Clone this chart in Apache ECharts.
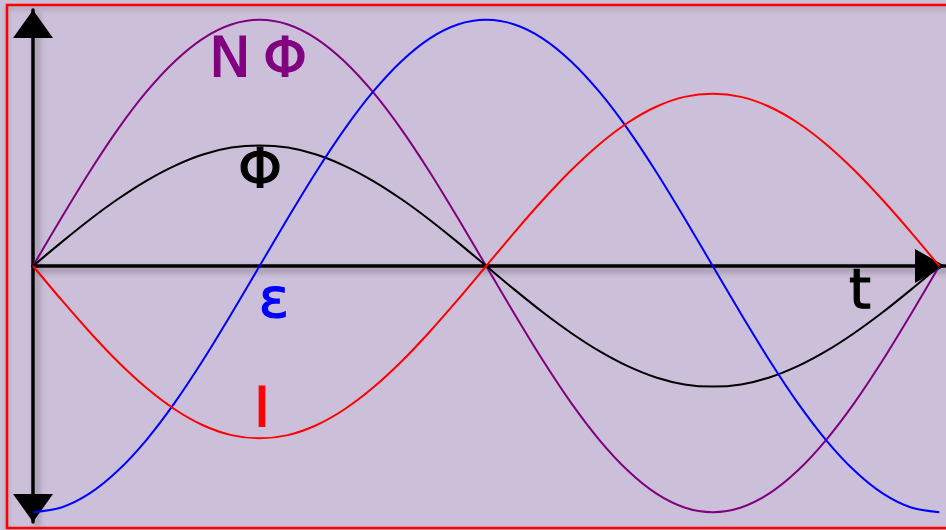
<!DOCTYPE html>
<html>
<head>
<meta charset="utf-8">
<script src="https://cdn.jsdelivr.net/npm/echarts@6/dist/echarts.min.js"></script>
<style>
    html, body { margin: 0; padding: 0; background: #ffffff; }
    #chart { width: 946px; height: 530px; }
</style>
</head>
<body>
<div id="chart"></div>
<script>
// time steps: one period = 32 steps
const steps = [0, 1, 2, 3, 4, 5, 6, 7, 8, 9, 10, 11, 12, 13, 14, 15, 16,
    17, 18, 19, 20, 21, 22, 23, 24, 25, 26, 27, 28, 29, 30, 31, 32];
// values (y: +1 top, -1 bottom)
const fluxLinkage = [0, 0.195, 0.383, 0.556, 0.707, 0.831, 0.924, 0.981, 1.0, 0.981, 0.924, 0.831, 0.707, 0.556, 0.383, 0.195, 0,
    -0.195, -0.383, -0.556, -0.707, -0.831, -0.924, -0.981, -1.0, -0.981, -0.924, -0.831, -0.707, -0.556, -0.383, -0.195, 0];
const flux = [0, 0.096, 0.188, 0.272, 0.346, 0.407, 0.453, 0.481, 0.49, 0.481, 0.453, 0.407, 0.346, 0.272, 0.188, 0.096, 0,
    -0.096, -0.188, -0.272, -0.346, -0.407, -0.453, -0.481, -0.49, -0.481, -0.453, -0.407, -0.346, -0.272, -0.188, -0.096, 0];
const emf = [-1.0, -0.981, -0.924, -0.831, -0.707, -0.556, -0.383, -0.195, 0, 0.195, 0.383, 0.556, 0.707, 0.831, 0.924, 0.981, 1.0,
    0.981, 0.924, 0.831, 0.707, 0.556, 0.383, 0.195, 0, -0.195, -0.383, -0.556, -0.707, -0.831, -0.924, -0.981, -1.0];
const current = [0, -0.137, -0.268, -0.389, -0.495, -0.582, -0.647, -0.687, -0.70, -0.687, -0.647, -0.582, -0.495, -0.389, -0.268, -0.137, 0,
    0.137, 0.268, 0.389, 0.495, 0.582, 0.647, 0.687, 0.70, 0.687, 0.647, 0.582, 0.495, 0.389, 0.268, 0.137, 0];

const pairs = (ys) => steps.map((x, i) => [x, ys[i]]);

const chart = echarts.init(document.getElementById('chart'));

const shadow = {
    shadowColor: 'rgba(0,0,0,0.35)',
    shadowBlur: 6,
    shadowOffsetX: 4,
    shadowOffsetY: 4,
};

function lineSeries(name, data, color) {
    return {
        name: name,
        type: 'line',
        data: pairs(data),
        smooth: 0.3,
        showSymbol: false,
        lineStyle: { color: color, width: 2 },
        z: 3,
    };
}

function label(text, x, y, color) {
    return {
        type: 'text',
        x: x,
        y: y,
        z: 10,
        style: Object.assign({
            text: text,
            fill: color,
            stroke: color,
            lineWidth: 1.2,
            font: '56px "DejaVu Sans"',
            align: 'center',
            verticalAlign: 'middle',
        }, shadow),
    };
}

const option = {
    backgroundColor: '#ccbfd9',
    animation: false,
    grid: { left: 33, right: 1, top: 10, bottom: 8 },
    xAxis: {
        type: 'value',
        min: 0,
        max: 32.2,
        axisLine: {
            onZero: true,
            symbol: ['none', 'triangle'],
            symbolSize: [34, 30],
            symbolOffset: [0, -15],
            lineStyle: Object.assign({ color: '#000', width: 3.5 }, shadow),
        },
        axisTick: { show: false },
        axisLabel: { show: false },
        splitLine: { show: false },
    },
    yAxis: {
        type: 'value',
        min: -1.04,
        max: 1.04,
        axisLine: {
            onZero: true,
            symbol: ['triangle', 'triangle'],
            symbolSize: [40, 28],
            symbolOffset: [14, -14],
            lineStyle: Object.assign({ color: '#000', width: 3.5 }, shadow),
        },
        axisTick: { show: false },
        axisLabel: { show: false },
        splitLine: { show: false },
    },
    series: [
        lineSeries('NΦ', fluxLinkage, '#800080'),
        lineSeries('Φ', flux, '#000000'),
        lineSeries('ε', emf, '#0000ff'),
        lineSeries('I', current, '#ff0000'),
    ],
    graphic: [
        {
            type: 'rect',
            x: 7,
            y: 5,
            z: 20,
            shape: { width: 960, height: 523 },
            style: {
                fill: 'none', stroke: '#ff0000', lineWidth: 2.5,
                shadowColor: 'rgba(0,0,0,0.2)', shadowBlur: 5, shadowOffsetY: 3,
            },
        },
        label('N', 230, 61, '#800080'),
        label('Φ', 285, 61, '#800080'),
        label('Φ', 260, 172, '#000000'),
        label('ε', 274, 302, '#0000ff'),
        label('I', 262, 411, '#ff0000'),
        label('t', 860, 293, '#000000'),
    ],
};

chart.setOption(option);
</script>
</body>
</html>
